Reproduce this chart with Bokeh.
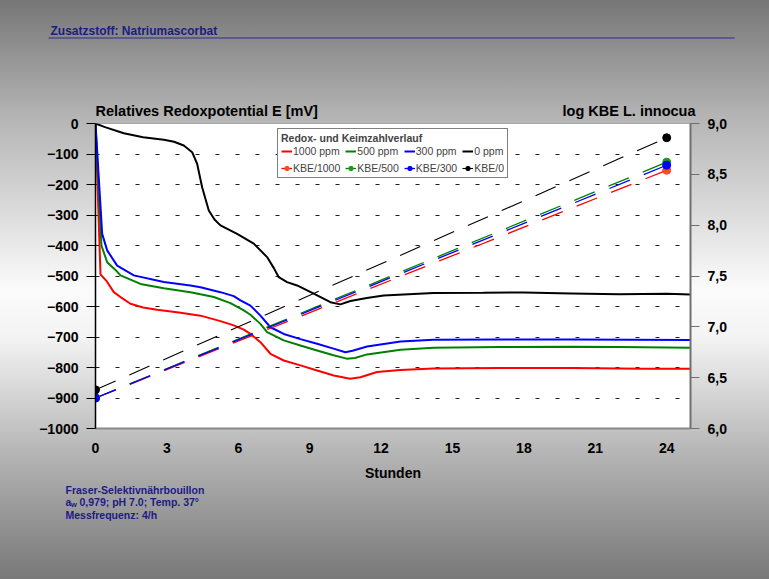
from bokeh.plotting import figure
from bokeh.models import (Range1d, LinearAxis, FixedTicker, CustomJSTickFormatter,
                          Label, Legend, LegendItem)
from bokeh.embed import file_html
from bokeh.resources import INLINE

# --- Redox potential curves (hours, mV) ---
t_1000 = [0, 0.21, 0.45, 0.77, 1.05, 1.47, 2.0, 2.59, 3.5, 4.41, 5.25, 5.81, 6.23, 6.51,
          6.93, 7.35, 7.91, 8.61, 9.31, 10.01, 10.7, 11.13, 11.83, 12.8, 14.2, 17.0, 20.0, 23.0, 25.0]
e_1000 = [0, -495, -515, -553, -569, -591, -603, -611, -620, -630, -648, -662, -676, -690,
          -717, -755, -777, -793, -810, -826, -837, -832, -815, -808, -803, -802, -802, -804, -804]

t_500 = [0, 0.25, 0.49, 0.84, 1.05, 1.89, 2.87, 3.99, 4.41, 4.97, 5.67, 6.23, 6.51, 6.93,
         7.21, 7.91, 8.61, 9.31, 10.0, 10.55, 10.9, 11.41, 12.82, 14.2, 17.0, 20.0, 22.0, 25.0]
e_500 = [0, -400, -455, -480, -498, -526, -540, -553, -560, -569, -589, -613, -627, -657,
         -684, -711, -728, -744, -760, -771, -769, -757, -742, -735, -733, -732, -733, -735]

t_300 = [0, 0.28, 0.49, 0.91, 1.61, 2.87, 3.99, 4.41, 5.25, 5.81, 6.09, 6.51, 6.93, 7.35,
         7.91, 8.61, 9.31, 10.0, 10.5, 10.8, 11.41, 12.82, 14.2, 17.0, 20.0, 25.0]
e_300 = [0, -362, -416, -466, -498, -520, -531, -537, -553, -566, -580, -597, -630, -668,
         -690, -707, -722, -738, -750, -745, -731, -715, -709, -708, -708, -710]

t_0 = [0, 0.4, 1.19, 2.0, 2.87, 3.3, 3.71, 4.06, 4.27, 4.48, 4.76, 5.0, 5.25, 5.95, 6.65,
       7.21, 7.5, 7.7, 8.05, 8.47, 9.17, 9.87, 10.29, 10.71, 11.4, 12.11, 14.2, 16.3, 18.0,
       20.0, 22.0, 24.0, 25.0]
e_0 = [0, -12, -32, -45, -53, -60, -72, -94, -132, -209, -285, -315, -334, -362, -394,
       -438, -475, -504, -520, -531, -558, -586, -593, -582, -572, -564, -556, -555, -554,
       -557, -560, -558, -561]

# --- Colony counts (hours, log KBE) ---
t_kbe = [0, 24]
kbe_1000 = [6.3, 8.54]
kbe_500 = [6.3, 8.62]
kbe_300 = [6.3, 8.59]
kbe_0 = [6.38, 8.86]

x_ticks = [0, 3, 6, 9, 12, 15, 18, 21, 24]
y_ticks = [0, -100, -200, -300, -400, -500, -600, -700, -800, -900, -1000]
y_grid = [-100, -200, -300, -400, -500, -600, -700, -800, -900]
kbe_ticks = [6.0, 6.5, 7.0, 7.5, 8.0, 8.5, 9.0]

W, H = 769, 579
FL, FR, FT, FB = 95, 690, 123, 428   # frame edges in pixels

FONT = "Liberation Sans"
NAVY = "#1c1c84"
GRADIENT = ("linear-gradient(to bottom, #767676 0%, #b4b4b4 20%, #fbfbfb 50%, "
            "#f4f4f4 58%, #b0b0b0 80%, #787878 100%)")

# ---------------- main chart ----------------
p = figure(width=W, height=H, output_backend="svg", toolbar_location=None,
           x_range=Range1d(0, 25), y_range=Range1d(-1000, 0),
           min_border_left=FL, min_border_right=W - FR,
           min_border_top=FT, min_border_bottom=H - FB)
p.border_fill_color = None
p.background_fill_color = "white"
p.outline_line_color = "#a8a8a8"
p.styles = {"background": GRADIENT}
p.extra_y_ranges = {"kbe": Range1d(6, 9)}

p.xaxis.ticker = FixedTicker(ticks=x_ticks)
p.xaxis.axis_label = "Stunden"
p.xaxis.axis_line_color = "#8a8a8a"
p.xaxis.axis_line_width = 2
p.xaxis.major_tick_line_color = None
p.xaxis.minor_tick_line_color = None
p.xaxis.major_label_standoff = 8
p.xaxis.axis_label_standoff = 9

p.yaxis.ticker = FixedTicker(ticks=y_ticks)
p.yaxis.axis_line_color = "black"
p.yaxis.axis_line_width = 1.5
p.yaxis.major_tick_out = 9
p.yaxis.major_tick_in = 0
p.yaxis.major_tick_line_color = "black"
p.yaxis.minor_tick_line_color = None
p.yaxis.major_label_standoff = 8

ax_r = LinearAxis(y_range_name="kbe", ticker=FixedTicker(ticks=kbe_ticks),
                  formatter=CustomJSTickFormatter(code="return tick.toFixed(1).replace('.', ',')"))
ax_r.axis_line_color = "#707070"
ax_r.axis_line_width = 2
ax_r.major_tick_out = 9
ax_r.major_tick_in = 0
ax_r.major_tick_line_color = "#707070"
ax_r.minor_tick_line_color = None
ax_r.major_label_standoff = 8
p.add_layout(ax_r, "right")

for ax in (p.xaxis[0], p.yaxis[0], ax_r):
    ax.major_label_text_font = FONT
    ax.major_label_text_font_style = "bold"
    ax.major_label_text_font_size = "14px"
    ax.major_label_text_color = "black"
    ax.axis_label_text_font = FONT
    ax.axis_label_text_font_style = "bold"
    ax.axis_label_text_font_size = "14px"
    ax.axis_label_text_color = "black"

p.xgrid.visible = False
p.ygrid.ticker = FixedTicker(ticks=y_grid)
p.ygrid.grid_line_color = "#202020"
p.ygrid.grid_line_dash = "4 16"
p.ygrid.grid_line_width = 1

# redox curves
r_1000 = p.line(t_1000, e_1000, line_color="#ff0000", line_width=2)
r_500 = p.line(t_500, e_500, line_color="#008000", line_width=2)
r_300 = p.line(t_300, e_300, line_color="#0000ff", line_width=2)
r_0 = p.line(t_0, e_0, line_color="black", line_width=2)

# colony counts on the right axis
DASH = "22 15"
k_l_1000 = p.line(t_kbe, kbe_1000, y_range_name="kbe", line_color="#ff0000", line_width=1.3, line_dash=DASH)
k_l_500 = p.line(t_kbe, kbe_500, y_range_name="kbe", line_color="#008000", line_width=1.3, line_dash=DASH)
k_l_300 = p.line(t_kbe, kbe_300, y_range_name="kbe", line_color="#0000ff", line_width=1.3, line_dash=DASH)
k_l_0 = p.line(t_kbe, kbe_0, y_range_name="kbe", line_color="black", line_width=1.1, line_dash=DASH)
k_d_1000 = p.scatter(t_kbe, kbe_1000, y_range_name="kbe", size=8, color="#ff4a1c")
k_d_500 = p.scatter(t_kbe, kbe_500, y_range_name="kbe", size=8, color="#1a9a1a")
k_d_300 = p.scatter(t_kbe, kbe_300, y_range_name="kbe", size=8, color="#0000ff")
k_d_0 = p.scatter(t_kbe, kbe_0, y_range_name="kbe", size=8, color="black")

legend = Legend(items=[
    LegendItem(label="1000 ppm", renderers=[r_1000]),
    LegendItem(label="500 ppm", renderers=[r_500]),
    LegendItem(label="300 ppm", renderers=[r_300]),
    LegendItem(label="0 ppm", renderers=[r_0]),
    LegendItem(label="KBE/1000", renderers=[k_l_1000, k_d_1000]),
    LegendItem(label="KBE/500", renderers=[k_l_500, k_d_500]),
    LegendItem(label="KBE/300", renderers=[k_l_300, k_d_300]),
    LegendItem(label="KBE/0", renderers=[k_l_0, k_d_0]),
], orientation="horizontal", ncols=4, location=(277 - FL, FB - 178))
legend.title = "Redox- und Keimzahlverlauf"
legend.title_text_font = FONT
legend.title_text_font_style = "bold"
legend.title_text_font_size = "10.5px"
legend.title_standoff = 1
legend.label_text_font = FONT
legend.label_text_font_size = "10.5px"
legend.label_standoff = 1
legend.label_height = 12
legend.glyph_width = 11
legend.glyph_height = 12
legend.spacing = 5
legend.padding = 3
legend.margin = 0
legend.border_line_color = "black"
legend.border_line_width = 1
legend.background_fill_color = "white"
legend.background_fill_alpha = 1
p.add_layout(legend, "center")

# ---------------- text layer over the whole page (pixel coordinates) ----------------
q = figure(width=W, height=H, output_backend="svg", toolbar_location=None,
           x_range=Range1d(0, W), y_range=Range1d(H, 0),
           min_border=0, min_border_left=0, min_border_right=0,
           min_border_top=0, min_border_bottom=0,
           x_axis_location=None, y_axis_location=None)
q.grid.visible = False
q.outline_line_color = None
q.background_fill_color = None
q.border_fill_color = None
q.styles = {"position": "absolute", "left": "0px", "top": "0px", "pointer-events": "none"}

q.add_layout(Label(x=50, y=30, text="Zusatzstoff: Natriumascorbat",
                   text_font=FONT, text_font_style="bold", text_font_size="12px",
                   text_baseline="middle", text_color=NAVY))
q.segment(x0=[48], y0=[37.5], x1=[734], y1=[37.5], line_color="#2a2a8c", line_width=1.2)

q.add_layout(Label(x=FL, y=110, text="Relatives Redoxpotential E [mV]",
                   text_font=FONT, text_font_style="bold", text_font_size="14.5px",
                   text_baseline="middle", text_align="left", text_color="black"))
q.add_layout(Label(x=695, y=110, text="log KBE L. innocua",
                   text_font=FONT, text_font_style="bold", text_font_size="14.5px",
                   text_baseline="middle", text_align="right", text_color="black"))

notes = dict(text_font=FONT, text_font_style="bold", text_font_size="10.5px",
             text_baseline="middle", text_color=NAVY)
q.add_layout(Label(x=65, y=489, text="Fraser-Selektivnährbouillon", **notes))
q.add_layout(Label(x=65, y=501, text="a", **notes))
q.add_layout(Label(x=70.5, y=504, text="w", text_font=FONT, text_font_style="bold",
                   text_font_size="7.5px", text_baseline="middle", text_color=NAVY))
q.add_layout(Label(x=79, y=501, text="0,979; pH 7.0;  Temp. 37°", **notes))
q.add_layout(Label(x=65, y=514, text="Messfrequenz: 4/h", **notes))

open("out.html", "w").write(file_html([p, q], INLINE))
